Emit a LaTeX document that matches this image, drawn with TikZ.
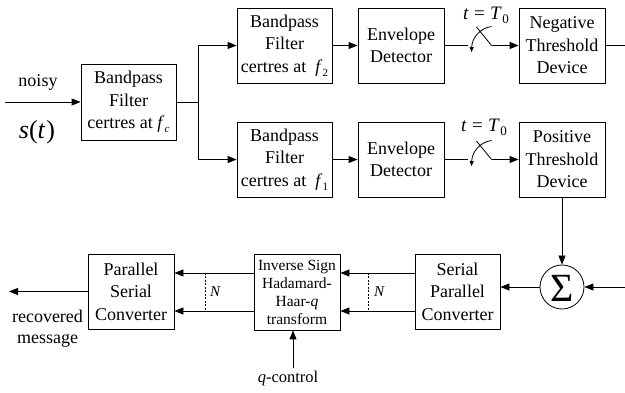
\documentclass[tikz,border=0pt]{standalone}
\usepackage{fontspec}
\setmainfont{Liberation Serif}
\usetikzlibrary{arrows.meta}
\newcommand\fsub[1]{\textit{f}\kern0.3pt\raisebox{-0.45ex}{\fontsize{11}{11}\selectfont #1}}
\newcommand\tsample{\textit{t}\hspace{0.28em}=\hspace{0.28em}\textit{T}\kern0.5pt\raisebox{-0.45ex}{\fontsize{13}{13}\selectfont 0}}
\begin{document}
\begin{tikzpicture}[x=1pt,y=-1pt,
  line width=0.8pt,
  blk/.style={draw, inner sep=0pt, align=center,
    font=\fontsize{18}{22.5}\selectfont},
  tip/.style={-{Triangle[length=9pt,width=7pt]}},
  smalltip/.style={-{Triangle[length=5pt,width=4pt]}},
  lbl/.style={inner sep=0pt, align=center, font=\fontsize{18}{21}\selectfont},
  bus/.style={dash pattern=on 2pt off 1.5pt, line width=0.7pt}
]
\useasboundingbox (0,0) rectangle (625,393);

% blocks
\node[blk, minimum width=95pt, minimum height=76pt] (bpc) at (128.5,102)
  {Bandpass\\Filter\\certres at \fsub{\textit{c}}};
\node[blk, minimum width=95pt, minimum height=75pt] (bp2) at (284.5,45.5)
  {Bandpass\\Filter\\certres at \ \fsub{2}};
\node[blk, minimum width=86pt, minimum height=75pt] (env2) at (401,45.5)
  {Envelope\\Detector};
\node[blk, minimum width=86pt, minimum height=75pt] (neg) at (562,45.5)
  {Negative\\Threshold\\Device};
\node[blk, minimum width=95pt, minimum height=75pt] (bp1) at (284.5,159.5)
  {Bandpass\\Filter\\certres at \ \fsub{1}};
\node[blk, minimum width=86pt, minimum height=75pt] (env1) at (401,159.5)
  {Envelope\\Detector};
\node[blk, minimum width=86pt, minimum height=75pt] (pos) at (562,159.5)
  {Positive\\Threshold\\Device};
\node[draw, circle, minimum size=44pt, inner sep=0pt] (sum) at (562,287) {};
\node[inner sep=0pt, font=\fontsize{40}{40}\selectfont] (sigma) at (562.5,288.5) {Σ};
\node[blk, minimum width=85pt, minimum height=75pt] (spc) at (457.5,291.5)
  {Serial\\Parallel\\Converter};
\node[blk, minimum width=86pt, minimum height=76pt,
  font=\fontsize{15.5}{18}\selectfont] (inv) at (297,292)
  {Inverse Sign\\Hadamard-\\Haar-\textit{q}\\transform};
\node[blk, minimum width=86pt, minimum height=75pt] (ps) at (131,291.5)
  {Parallel\\Serial\\Converter};

% input
\coordinate (in) at (5,102);
\draw[tip] (in) -- (bpc.west);
\node[lbl] (noisy) at (38,82) {noisy};
\node[lbl, font=\fontsize{26}{26}\selectfont] (sig) at (37,132) {\textit{s}(\textit{t}\kern1pt)};

% splitting into the two filter branches
\coordinate (br) at (198,102);
\draw (bpc.east) -- (br);
\draw[tip] (br) |- (bp2.west);
\draw[tip] (br) |- (bp1.west);
\draw[tip] (bp2.east) -- (env2.west);
\draw[tip] (bp1.east) -- (env1.west);

% sampling switch, upper branch
\coordinate (s2a) at (468,45.5);
\coordinate (s2b) at (491.5,45.5);
\draw (env2.east) -- (s2a);
\draw (s2b) -- ++(-15,-18.5);
\draw[tip] (s2b) -- (neg.west);
\draw[smalltip] (491.5,26.5) .. controls (480,28) and (472,38) .. (471.5,52);
\node[lbl, font=\fontsize{19}{19}\selectfont] (t2) at (486,15) {\tsample};

% sampling switch, lower branch
\coordinate (s1a) at (468,159.5);
\coordinate (s1b) at (491.5,159.5);
\draw (env1.east) -- (s1a);
\draw (s1b) -- ++(-15,-18.5);
\draw[tip] (s1b) -- (pos.west);
\draw[smalltip] (491.5,140.5) .. controls (480,142) and (472,152) .. (471.5,166);
\node[lbl, font=\fontsize{19}{19}\selectfont] (t1) at (484,127) {\tsample};

% threshold outputs and summation
\coordinate (negout) at (625,45.5);
\draw (neg.east) -- (negout);
\draw[tip] (pos.south) -- (sum.north);
\coordinate (sumin) at (625,287);
\draw[tip] (sumin) -- (sum.east);
\draw[tip] (sum.west) -- (sum.west -| spc.east);

% parallel buses
\coordinate (b1t) at (368,273);
\coordinate (b1b) at (368,311);
\draw[tip] (spc.west |- b1t) -- (inv.east |- b1t);
\draw[tip] (spc.west |- b1b) -- (inv.east |- b1b);
\draw[bus] (b1t) -- (b1b);
\node[inner sep=0pt, font=\fontsize{15}{15}\selectfont] (n1) at (379.5,292) {\textit{N}};

\coordinate (b2t) at (205,273);
\coordinate (b2b) at (205,311);
\draw[tip] (inv.west |- b2t) -- (ps.east |- b2t);
\draw[tip] (inv.west |- b2b) -- (ps.east |- b2b);
\draw[bus] (b2t) -- (b2b);
\node[inner sep=0pt, font=\fontsize{15}{15}\selectfont] (n2) at (215.5,292) {\textit{N}};

% control input and final output
\coordinate (qc) at (293,368);
\draw[tip] (qc) -- (qc |- inv.south);
\node[lbl, font=\fontsize{16.5}{18}\selectfont] (qlbl) at (288,379) {\textit{q}-control};

\coordinate (out) at (9,291.5);
\draw[tip] (ps.west) -- (out);
\node[lbl] (rec) at (47.5,329) {recovered\\message};
\end{tikzpicture}
\end{document}
